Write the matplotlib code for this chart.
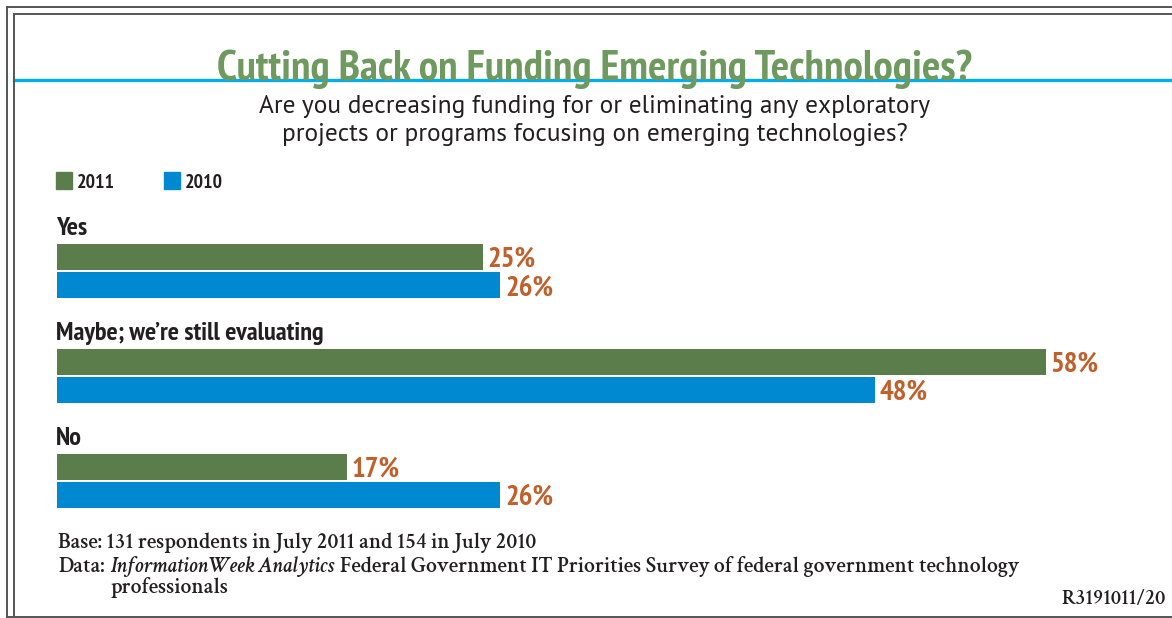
import matplotlib
matplotlib.use("Agg")
import matplotlib.pyplot as plt
from matplotlib.lines import Line2D
import numpy as np

# Survey answers and shares (%)
categories = ["Yes", "Maybe; we\u2019re still evaluating", "No"]
series_names = ["2011", "2010"]
values_2011 = [25, 58, 17]
values_2010 = [26, 48, 26]

title = "Cutting Back on Funding Emerging Technologies?"
subtitle_lines = ["Are you decreasing funding for or eliminating any exploratory",
                  "projects or programs focusing on emerging technologies?"]
base_note = "Base: 131 respondents in July 2011 and 154 in July 2010"
data_label = "Data:"
data_source = "InformationWeek Analytics"
data_rest = "Federal Government IT Priorities Survey of federal government technology"
data_cont = "professionals"
code_note = "R3191011/20"

W, H = 1172, 618
GREEN = "#5b7d4b"
BLUE = "#0088d1"
TITLE_GREEN = "#6f9a5f"
LABEL = "#c0602c"
CYAN = "#00aeef"
FRAME = "#555555"
INK = "#231f20"

COND = ["PT Sans Narrow", "Fira Sans Condensed", "Asap Condensed",
        "Barlow Semi Condensed", "DejaVu Sans"]
SANS = ["PT Sans", "Open Sans", "DejaVu Sans"]
SERIF = ["Crimson Text", "Crimson Pro", "EB Garamond", "Liberation Serif", "DejaVu Serif"]

fig = plt.figure(figsize=(W / 100, H / 100), dpi=100)
fig.patch.set_facecolor("white")
renderer = fig.canvas.get_renderer()


def fx(px):
    return px / W


def fy(py):
    return 1 - py / H


def width_px(t):
    return t.get_window_extent(renderer).width


def fit(t, target):
    """Scale a text's font size so it spans `target` pixels."""
    for _ in range(3):
        t.set_fontsize(t.get_fontsize() * target / width_px(t))
    return t.get_fontsize()


# double frame and rule under the title
for xs, ys in [
    ([6.5, 6.5], [H, 6.5]), ([6.5, W], [6.5, 6.5]),
    ([13.5, 13.5], [616, 13.5]), ([13.5, W], [13.5, 13.5]),
    ([6.5, W], [616.5, 616.5]),
]:
    fig.add_artist(Line2D([fx(x) for x in xs], [fy(y) for y in ys],
                          color=FRAME, lw=1.4, transform=fig.transFigure))
fig.add_artist(Line2D([fx(14), 1], [fy(80), fy(80)], color=CYAN, lw=2.4,
                      transform=fig.transFigure, zorder=1))

t = fig.text(fx(595), fy(80), title, ha="center", va="baseline", color=TITLE_GREEN,
             fontsize=31, fontweight="bold", family=COND, zorder=3)
fit(t, 754)

s1 = fig.text(fx(595), fy(112.5), subtitle_lines[0], ha="center", va="baseline",
              color=INK, fontsize=15, family=SANS)
sub_size = fit(s1, 670)
fig.text(fx(595), fy(141), subtitle_lines[1], ha="center", va="baseline",
         color=INK, fontsize=sub_size, family=SANS)

# legend
leg_size = None
for (x0, name, col) in [(56, series_names[0], GREEN), (164, series_names[1], BLUE)]:
    fig.add_artist(plt.Rectangle((fx(x0), fy(189)), fx(16), 17 / H,
                                 color=col, transform=fig.transFigure))
    lt = fig.text(fx(x0 + 21), fy(188.5), name, ha="left", va="baseline",
                  color=INK, fontsize=14, fontweight="bold", family=COND)
    if leg_size is None:
        leg_size = fit(lt, 38)
    else:
        lt.set_fontsize(leg_size)

# bars
px_per_pct = 17.05
x_max = 60
pitch = 104.5
ax = fig.add_axes([fx(56.7), fy(508), x_max * px_per_pct / W, 264 / H])
ax.set_xlim(0, x_max)
ax.set_ylim(2 + 27 / pitch, -27 / pitch)
ax.axis("off")
y = np.arange(len(categories))
off = 14 / pitch
h = 26 / pitch
ax.barh(y - off, values_2011, height=h, color=GREEN)
ax.barh(y + off, values_2010, height=h, color=BLUE)

# value labels: size set from the widest label
probe = fig.text(0, 0, "58%", fontsize=19, fontweight="bold", family=COND)
pct_size = fit(probe, 48)
probe.remove()
for ys, vals in [(y - off, values_2011), (y + off, values_2010)]:
    for yi, v in zip(ys, vals):
        ax.annotate(f"{v}%", (v, yi), xytext=(3.5, -7.2), textcoords="offset points",
                    ha="left", va="baseline", color=LABEL, fontsize=pct_size,
                    fontweight="bold", family=COND)

# category headings above each pair
probe = fig.text(0, 0, categories[1], fontsize=18, fontweight="bold", family=COND)
cat_size = fit(probe, 268)
probe.remove()
for yi, cat in zip(y, categories):
    ax.annotate(cat, (0, yi - off - h / 2), xytext=(-0.5, 6.5),
                textcoords="offset points", ha="left", va="baseline",
                color=INK, fontsize=cat_size, fontweight="bold", family=COND,
                annotation_clip=False)

# notes: the source line runs from the indent to x=1020
note_kw = dict(ha="left", va="baseline", color=INK, fontweight="semibold", family=SERIF)
indent = 110
src = fig.text(fx(indent), fy(572), data_source, style="italic", fontsize=12.5, **note_kw)
rest = fig.text(0, fy(572), data_rest, fontsize=12.5, **note_kw)
for _ in range(3):
    s = src.get_fontsize()
    span = width_px(src) + 0.28 * s * 100 / 72 + width_px(rest)
    s *= (1020 - indent) / span
    src.set_fontsize(s)
    rest.set_fontsize(s)
note_size = src.get_fontsize()
rest.set_x(fx(indent + width_px(src) + 0.28 * note_size * 100 / 72))

fig.text(fx(58), fy(548), base_note, fontsize=note_size, **note_kw)
fig.text(fx(58), fy(572), data_label, fontsize=note_size, **note_kw)
fig.text(fx(indent), fy(593), data_cont, fontsize=note_size, **note_kw)
fig.text(fx(1166), fy(604), code_note, fontsize=note_size * 0.95,
         **{**note_kw, "ha": "right"})

fig.savefig("out.png", dpi=100, facecolor="white")
